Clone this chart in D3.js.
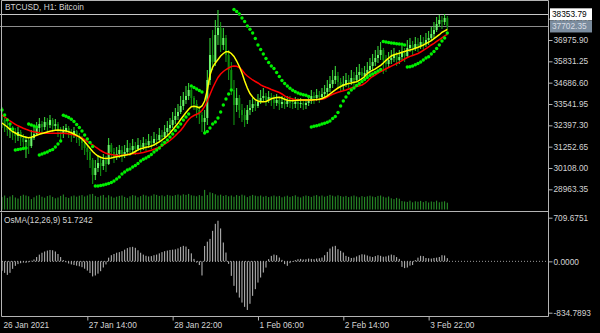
<!DOCTYPE html>
<html><head><meta charset="utf-8">
<script src="https://cdn.jsdelivr.net/npm/d3@7"></script>
<style>html,body{margin:0;padding:0;background:#000;overflow:hidden}svg{display:block}</style>
</head><body>
<svg id="c" width="600" height="333"></svg>
<script>
const titleText = "BTCUSD, H1:  Bitcoin";
const osmaTitle = "OsMA(12,26,9) 51.7242";

const open = [32952,32683,32361,32147,32254,31986,31825,32039,31717,31503,
31610,31288,31717,31932,32254,32469,32308,32576,32415,32683,
32361,32469,32147,31932,32093,32254,32039,31878,32093,31825,
31610,31449,31181,30966,30537,29732,30107,30376,30215,30537,
30322,31342,30966,30698,30859,31073,30805,30966,31181,31073,
31288,31127,31342,31234,31449,31342,31556,31449,31664,31610,
31878,31771,32039,32254,32415,32683,32898,33113,33435,33757,
33971,34293,33864,33542,33220,32952,32576,32791,34830,36171,
35796,37244,37620,36708,37083,36171,35366,34293,33488,33864,
33220,32952,32683,33220,33327,33542,33435,33649,33864,33971,
33757,33917,33810,33596,33757,33542,33649,33542,33703,33596,
33542,33649,33542,33596,33488,33596,33703,33971,33864,34025,
33917,34078,34186,34400,34615,34830,35044,34722,34508,34615,
34830,34722,34937,34830,35098,35259,35044,35205,35366,35581,
35796,36010,36171,36440,35903,35688,35903,36010,36171,35903,
36064,36279,36118,36547,36708,36547,36762,36654,36869,36762,
36976,37083,37298,37513,37835,38049,37942,38157];
const high = [33381,32791,32576,32469,32361,32254,32308,32147,31932,31825,
31717,32147,32361,32576,32791,32630,32844,32791,32952,32791,
32737,32576,32308,32361,32469,32361,32200,32308,32147,31986,
31825,31610,31342,31073,30644,30537,30805,30644,30859,30751,
31717,31449,31181,31234,31342,31288,31342,31610,31449,31664,
31503,31717,31610,31771,31664,31932,31825,32039,31932,32254,
32147,32415,32630,32791,33113,33327,33542,33971,34186,34508,
34669,34400,33971,33757,33435,33113,33220,35366,37083,37513,
38049,38586,37942,37620,37244,36440,35796,34830,34400,34025,
33542,33327,33488,33757,33864,33810,34078,34293,34400,34132,
34239,34132,34025,34078,33917,33971,33917,33971,33971,33864,
33917,33864,33864,33810,33810,33864,34293,34186,34347,34239,
34400,34561,34830,35044,35366,35581,35259,34937,35044,35205,
35098,35366,35259,35527,35688,35474,35581,35796,36010,36225,
36440,36654,36869,36547,36171,36332,36440,36547,36332,36440,
36654,36547,36976,37083,36923,37137,37083,37244,37137,37352,
37459,37674,37942,38210,38318,38264,38371,38264];
const low = [32254,32039,31825,31717,31610,31449,31556,31288,31234,30644,
30859,31181,31610,31825,32039,31932,32147,31986,32254,32039,
32093,31771,31556,31717,31932,31717,31503,31717,31449,31288,
31073,30805,30537,30107,29249,29463,29893,29678,30000,29893,
30268,30644,30376,30537,30644,30429,30644,30805,30751,30912,
30805,31020,30912,31073,31020,31181,31127,31288,31288,31503,
31449,31664,31878,32039,32254,32469,32683,33005,33220,33542,
33757,33435,33220,32791,32469,32039,31932,32415,34561,35366,
35581,36708,36332,36440,35796,34830,34025,32415,33113,32791,
32576,32308,32469,32952,33113,33166,33327,33542,33649,33435,
33596,33435,33274,33435,33220,33327,33274,33381,33327,33274,
33327,33220,33327,33220,33274,33435,33542,33542,33703,33596,
33757,33864,33971,34186,34400,34615,34400,34186,34293,34454,
34400,34561,34508,34722,34830,34722,34830,34991,35152,35366,
35581,35742,35903,35152,35259,35474,35688,35796,35581,35688,
35903,35796,36010,36332,36171,36386,36332,36493,36440,36601,
36708,36923,37083,37405,37674,37566,37781,37513];
const close = [32683,32361,32147,32254,31986,31825,32039,31717,31503,31610,
31288,31717,31932,32254,32469,32308,32576,32415,32683,32361,
32469,32147,31932,32093,32254,32039,31878,32093,31825,31610,
31449,31181,30966,30537,29732,30107,30376,30215,30537,30322,
31342,30966,30698,30859,31073,30805,30966,31181,31073,31288,
31127,31342,31234,31449,31342,31556,31449,31664,31610,31878,
31771,32039,32254,32415,32683,32898,33113,33435,33757,33971,
34293,33864,33542,33220,32952,32576,32791,34830,36171,35796,
37244,37620,36708,37083,36171,35366,34293,33488,33864,33220,
32952,32683,33220,33327,33542,33435,33649,33864,33971,33757,
33917,33810,33596,33757,33542,33649,33542,33703,33596,33542,
33649,33542,33596,33488,33596,33703,33971,33864,34025,33917,
34078,34186,34400,34615,34830,35044,34722,34508,34615,34830,
34722,34937,34830,35098,35259,35044,35205,35366,35581,35796,
36010,36171,36440,35903,35688,35903,36010,36171,35903,36064,
36279,36118,36547,36708,36547,36762,36654,36869,36762,36976,
37083,37298,37513,37835,38049,37942,38157,37702];
const volume = [6200,7000,5800,6500,7200,6000,5500,6800,7400,7000,6600,5200,6100,6900,7300,6400,5900,6700,7100,6300,5600,6000,6800,7500,6200,5800,6600,7000,6400,6900,7200,6500,
7000,7600,7800,6800,6200,6900,7300,6000,7100,6500,5900,6400,6800,7000,6300,5800,6600,7200,6900,6100,6700,7400,7000,6500,6900,7600,7300,6800,7100,6600,7300,7000,
6800,7200,7500,7000,7600,7300,7800,7100,6900,6600,7200,6800,9800,7200,8600,8200,7600,7000,7400,6800,7200,6600,7000,6400,7200,6800,7400,7000,6200,6800,7300,6900,
6600,7000,6400,6800,6200,6600,7000,6500,6800,6100,6500,6900,6300,6700,7100,6400,6000,6600,7000,6700,6300,6900,7200,6600,7000,6400,6800,7300,6900,6500,7100,6700,
6400,6800,6200,6600,7000,6500,6100,6700,6300,6600,6900,6500,6200,6800,7000,6400,6000,6500,5600,5200,5800,5400,
4200,4000,3800,4400,3600,4100,3900,4300,3700,4200,3500,4000,3800,4400,3600,3900,4100,3400];
const maFast = [32522,32415,32308,32174,32066,31986,31905,31851,31798,31755,
31733,31755,31809,31867,31916,31959,32001,32039,32077,32109,
32136,32147,32136,32120,32093,32050,31996,31932,31862,31782,
31664,31513,31342,31165,30993,30859,30751,30682,30628,30617,
30628,30644,30682,30713,30735,30762,30789,30816,30843,30912,
30993,31084,31143,31181,31218,31245,31288,31352,31433,31513,
31610,31717,31835,31986,32157,32334,32506,32710,32898,33086,
33258,33392,33419,33397,33338,33435,33703,34293,35098,35527,
35742,35930,36118,36252,36348,36343,36252,36091,35849,35554,
35205,34776,34400,34105,33917,33772,33703,33665,33660,33676,
33741,33821,33864,33891,33901,33864,33794,33746,33730,33719,
33730,33746,33757,33757,33757,33757,33757,33767,33778,33794,
33837,33901,33982,34089,34196,34304,34400,34481,34545,34604,
34642,34669,34706,34738,34814,34899,35017,35178,35275,35350,
35431,35527,35619,35742,35887,35999,36118,36187,36225,36263,
36316,36359,36408,36440,36482,36531,36585,36643,36708,36783,
36858,36944,37051,37153,37260,37389,37470,37539];
const maSlow = [32952,32844,32737,32630,32538,32453,32372,32308,32243,32184,
32131,32082,32050,32023,32001,31986,31975,31970,31970,31970,
31970,31970,31970,31970,31964,31943,31911,31873,31825,31777,
31717,31632,31535,31433,31342,31245,31143,31046,30966,30896,
30859,30827,30805,30789,30778,30789,30811,30832,30859,30869,
30880,30891,30907,30939,30977,31020,31062,31116,31170,31223,
31299,31384,31476,31583,31701,31835,31986,32120,32308,32522,
32710,32844,32925,32989,33059,33193,33408,33703,34052,34400,
34695,34964,35152,35286,35393,35484,35554,35581,35565,35500,
35366,35178,35044,34937,34830,34749,34669,34572,34497,34438,
34384,34320,34266,34212,34159,34078,33982,33901,33848,33810,
33778,33757,33757,33757,33757,33757,33757,33767,33778,33783,
33794,33837,33917,33998,34062,34121,34170,34212,34250,34293,
34347,34400,34443,34481,34518,34561,34642,34765,34910,35017,
35109,35205,35286,35355,35431,35500,35570,35645,35715,35785,
35871,35957,36037,36097,36145,36198,36252,36332,36419,36515,
36611,36708,36799,36896,36992,37094,37191,37282];
const sar = [33220,32952,32683,32469,32200,31073,31100,31127,31154,31181,
32469,32415,32361,32308,30805,30859,30912,30966,31046,31100,
31234,31395,31556,32936,32882,32818,32721,32603,32442,32281,
32093,31878,31664,31476,31261,29141,29141,29168,29195,29233,
29276,29329,29410,29517,29624,29786,29893,30000,30054,30161,
30242,30349,30483,30574,30644,30725,30832,30966,31073,31181,
31342,31476,31610,31771,31932,32120,32308,32469,32683,32844,
33005,34508,34427,34347,34266,34186,31986,32066,32254,32469,
32576,32791,33113,33488,33810,34078,34293,38613,38505,38371,
38157,37969,37727,37550,37352,37056,36708,36467,36225,35984,
35769,35581,35447,35232,35017,34803,34642,34508,34384,34277,
34201,34132,34078,34040,34009,33944,32308,32345,32377,32415,
32469,32506,32560,32630,32764,32871,33086,33435,33703,33917,
34132,34293,34400,34534,34642,34749,34857,34964,35071,35152,
35232,35313,35393,36896,36869,36842,36815,36799,36778,36762,
36745,36708,35527,35543,35581,35650,35715,35796,35903,36010,
36081,36225,36359,36520,36708,36923,37083,37352];
const osma = [-154,-187,-220,-187,-122,-73,-45,-30,-20,-25,
-15,10,30,70,110,140,160,175,185,180,
160,120,70,20,-15,-35,-50,-60,-70,-80,
-95,-120,-150,-190,-245,-230,-200,-160,-100,-50,
60,100,120,140,150,165,190,215,230,236,
220,180,140,110,90,80,85,100,110,130,
150,165,175,185,190,195,210,235,252,240,
200,130,40,-20,-60,-230,250,320,365,496,
610,660,535,306,143,-41,-236,-398,-507,-589,
-670,-740,-790,-690,-561,-452,-345,-263,-182,-101,
36,89,110,100,62,24,-45,-73,-29,-8,
20,35,40,30,35,45,40,35,45,50,
62,100,154,208,240,252,198,171,143,89,
73,55,60,80,100,115,110,95,80,70,
85,100,90,75,80,95,110,100,70,40,
-90,-110,-100,-70,-60,20,60,90,85,55,
50,45,55,60,70,100,95,51.7242];

const priceTicks = [38120.55,36975.90,35831.25,34686.60,33541.95,32397.30,31252.65,30108.00,28963.35];
const priceLines = [38353.79,37702.35];
const osmaTicks = [709.6751,0,-834.7893];
const timeTickIndex = [0,32,64,96,128,160];
const timeTickLabels = ["26 Jan 2021","27 Jan 14:00","28 Jan 22:00","1 Feb 06:00","2 Feb 14:00","3 Feb 22:00"];

const FONT = "Liberation Sans, Arial, sans-serif";
const TXT = "#d4d4d4";
const FRAME = "#b4b4b4";
const n = close.length;
const svg = d3.select("#c");
svg.append("rect").attr("width",600).attr("height",333).attr("fill","#000");

const x = d3.scaleLinear().domain([0, n-1]).range([2, 447.3]);
const y = d3.scaleLinear().domain([28963.35, 36975.90]).range([189.33, 40]);
const yo = d3.scaleLinear().domain([-834.7893, 709.6751]).range([312.7, 217.7]);
const yv = d3.scaleLinear().domain([0, 10000]).range([209.5, 189.5]);

// price lines
svg.append("line").attr("x1",0).attr("x2",548).attr("y1",Math.round(y(priceLines[0]))+0.5).attr("y2",Math.round(y(priceLines[0]))+0.5).attr("stroke","#c8c8c8");
svg.append("line").attr("x1",0).attr("x2",548).attr("y1",Math.round(y(priceLines[1]))+0.5).attr("y2",Math.round(y(priceLines[1]))+0.5).attr("stroke","#8c8c8c");

// volumes
svg.append("g").selectAll("line").data(volume).join("line")
  .attr("x1",(d,i)=>x(i)).attr("x2",(d,i)=>x(i))
  .attr("y1",yv(0)).attr("y2",d=>yv(d))
  .attr("stroke","#2b9a2b").attr("stroke-width",1);

// candles
const cg = svg.append("g");
const idx = d3.range(n);
cg.selectAll("line").data(idx).join("line")
  .attr("x1",i=>x(i)).attr("x2",i=>x(i))
  .attr("y1",i=>y(high[i])).attr("y2",i=>y(low[i]))
  .attr("stroke",i=>close[i]>=open[i]?"#3ee83e":"#13a013").attr("stroke-width",1);
cg.selectAll("rect").data(idx).join("rect")
  .attr("x",i=>x(i)-1).attr("width",2)
  .attr("y",i=>Math.min(y(open[i]),y(close[i])))
  .attr("height",i=>Math.max(1,Math.abs(y(open[i])-y(close[i]))))
  .attr("fill",i=>close[i]>=open[i]?"#6cf56c":"#0c8c0c");

// moving averages
const line = d3.line().x((d,i)=>x(i)).y(d=>y(d));
svg.append("path").attr("d",line(maSlow)).attr("fill","none").attr("stroke","#ff0000").attr("stroke-width",1.5);
svg.append("path").attr("d",line(maFast)).attr("fill","none").attr("stroke","#ffff00").attr("stroke-width",1.5);

// SAR
svg.append("g").selectAll("circle").data(sar).join("circle")
  .attr("cx",(d,i)=>x(i)).attr("cy",d=>y(d)).attr("r",1.7).attr("fill","#00f000");

// OsMA
svg.append("line").attr("x1",2).attr("x2",548).attr("y1",yo(0)).attr("y2",yo(0))
  .attr("stroke","#9a9a9a").attr("stroke-dasharray","1,2");
svg.append("g").selectAll("line").data(osma).join("line")
  .attr("x1",(d,i)=>x(i)).attr("x2",(d,i)=>x(i))
  .attr("y1",yo(0)).attr("y2",d=>yo(d))
  .attr("stroke","#c0c0c0").attr("stroke-width",1);

// frames
const fr = svg.append("g").attr("fill","none").attr("stroke",FRAME).attr("stroke-width",1);
fr.append("path").attr("d","M1.5,211V0.5H548.5V316.5");
fr.append("path").attr("d","M0,211.5H548.5");
fr.append("path").attr("d","M1.5,212.5V316.5H548.5");

// axes
const yAxis = d3.axisRight(y).tickValues(priceTicks).tickSize(4).tickFormat(d=>d.toFixed(2));
const ga = svg.append("g").attr("transform","translate(548.5,0)").call(yAxis);
const yoAxis = d3.axisRight(yo).tickValues(osmaTicks).tickSize(4).tickFormat(d=>d.toFixed(4));
const gb = svg.append("g").attr("transform","translate(548.5,0)").call(yoAxis);
const xAxis = d3.axisBottom(x).tickValues(timeTickIndex).tickSize(4).tickFormat((d,k)=>timeTickLabels[k]);
const gc = svg.append("g").attr("transform","translate(0,316.5)").call(xAxis);
[ga,gb,gc].forEach(g=>{
  g.select(".domain").remove();
  g.selectAll(".tick line").attr("stroke",FRAME);
  g.selectAll(".tick text").attr("fill",TXT).attr("font-family",FONT).attr("font-size","8.3px");
});
ga.selectAll(".tick text").attr("x",5);
gb.selectAll(".tick text").attr("x",5);
gc.selectAll(".tick text").attr("text-anchor","start").attr("x",1).attr("y",6);
gc.selectAll(".tick").filter(d=>d===0).select("line").remove();

// price label boxes
const boxes = [{v:priceLines[0],bg:"#ffffff",fg:"#000000"},{v:priceLines[1],bg:"#7b8c9e",fg:"#d8dde4"}];
boxes.forEach(b=>{
  const yy = y(b.v);
  svg.append("rect").attr("x",550).attr("y",yy-6).attr("width",42).attr("height",12).attr("fill",b.bg);
  svg.append("text").attr("x",552).attr("y",yy+3).attr("fill",b.fg).attr("font-family",FONT).attr("font-size","8.3px").text(b.v.toFixed(2));
});

// titles
svg.append("text").attr("x",5).attr("y",10).attr("fill",TXT).attr("font-family",FONT).attr("font-size","8.3px").text(titleText);
svg.append("text").attr("x",4).attr("y",223).attr("fill",TXT).attr("font-family",FONT).attr("font-size","8.3px").text(osmaTitle);
</script>
</body></html>
